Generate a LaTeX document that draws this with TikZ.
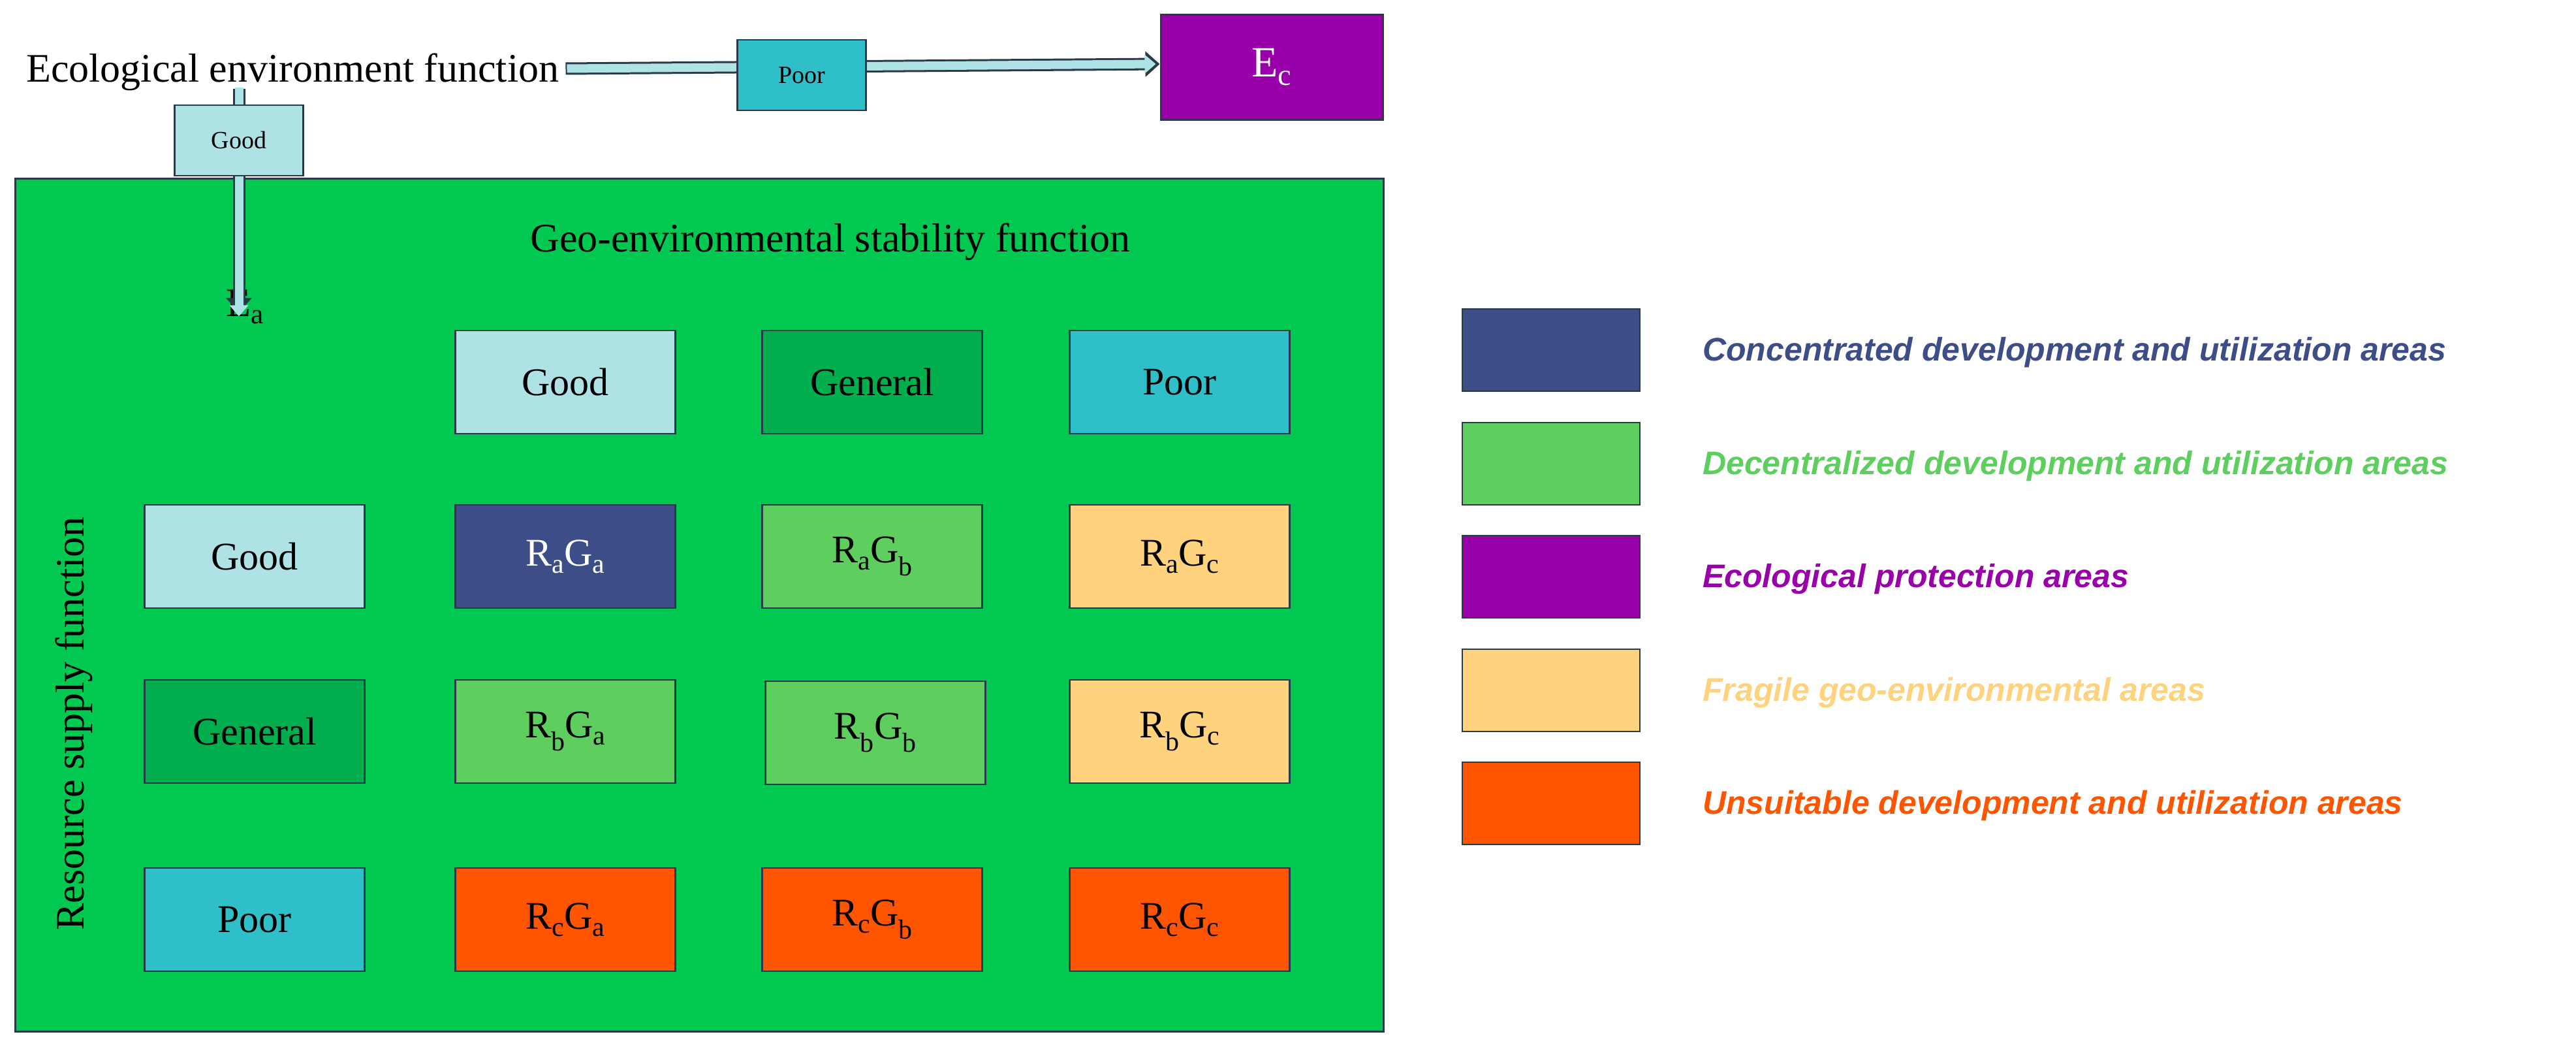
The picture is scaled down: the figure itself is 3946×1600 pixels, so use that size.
\documentclass[tikz,border=0pt]{standalone}
\usepackage{fontspec}
\setmainfont{Liberation Serif}
\newfontfamily\arialf{Liberation Sans}
\usetikzlibrary{arrows.meta}
\definecolor{bggreen}{HTML}{00C850}
\definecolor{lcyan}{HTML}{AEE2E4}
\definecolor{dgreen}{HTML}{00AE4E}
\definecolor{tcyan}{HTML}{2EBFC8}
\definecolor{navy}{HTML}{3C4D88}
\definecolor{lgreen}{HTML}{5ECF5E}
\definecolor{lorange}{HTML}{FFD37E}
\definecolor{orng}{HTML}{FF5500}
\definecolor{purp}{HTML}{9900AA}
\definecolor{edge}{HTML}{2A3A48}
\begin{document}
\begin{tikzpicture}[x=1pt,y=-1pt,
  cell/.style={draw=edge,line width=2.5pt,minimum width=337pt,minimum height=158pt,inner sep=0pt,font=\fontsize{60}{60}\selectfont},
  small/.style={draw=edge,line width=2.5pt,minimum width=197pt,minimum height=108pt,inner sep=0pt,font=\fontsize{38}{38}\selectfont},
  leg/.style={draw=edge,line width=2.5pt,minimum width=272pt,minimum height=126pt,inner sep=0pt},
  legt/.style={anchor=west,inner sep=0pt,font=\arialf\bfseries\itshape\fontsize{50}{50}\selectfont},
  lbl/.style={inner sep=0pt,font=\fontsize{62}{62}\selectfont},
  arrout/.style={draw=edge,line width=19pt},
  arrin/.style={draw=lcyan,line width=13pt}]
\useasboundingbox (0,0) rectangle (3946,1600);
% green frame
\node[draw=edge,line width=3pt,fill=bggreen,minimum width=2096pt,minimum height=1306pt,inner sep=0pt,anchor=north west] (frame) at (22,272) {};
% top text
\node[lbl,anchor=west] (eco) at (40,110) {Ecological environment function};
\node[draw=edge,line width=3pt,fill=purp,minimum width=340pt,minimum height=160pt,inner sep=0pt,text=white,font=\fontsize{66}{66}\selectfont] (ec) at (1948,103) {E\textsubscript{c}};
\coordinate (dtop) at (366,136);
\node[lbl] (ea) at (375,470) {E\textsubscript{a}};
% arrows
\draw[arrout,-{Triangle[length=22pt,width=38pt]}] (eco.east) ++(10pt,5pt) -- ([yshift=5pt]ec.west);
\draw[arrin,-{Triangle[length=17pt,width=28pt]}] (eco.east) ++(12pt,5pt) -- ([xshift=-6pt,yshift=5pt]ec.west);
\draw[arrout,-{Triangle[length=22pt,width=38pt]}] (dtop) -- ([yshift=-35pt]ea.north -| dtop);
\draw[arrin,-{Triangle[length=17pt,width=28pt]}] ([yshift=2pt]dtop) -- ([yshift=-41pt]ea.north -| dtop);
\node[small,fill=tcyan] (ptop) at (1228,115) {Poor};
\node[small,fill=lcyan] (gtop) at (366,215) {Good};
% grid
\node[lbl] (geo) at (1272,370) {Geo-environmental stability function};
\node[lbl,rotate=90] (res) at (113,1108) {Resource supply function};
\node[cell,fill=lcyan] (hg) at (866,585) {Good};
\node[cell,fill=dgreen] (hm) at (1336,585) {General};
\node[cell,fill=tcyan] (hp) at (1807,585) {Poor};
\node[cell,fill=lcyan] (rg) at (390,852) {Good};
\node[cell,fill=dgreen] (rm) at (390,1120) {General};
\node[cell,fill=tcyan] (rp) at (390,1408) {Poor};
\node[cell,fill=navy,text=white] (aa) at (866,852) {R\textsubscript{a}G\textsubscript{a}};
\node[cell,fill=lgreen] (ab) at (1336,852) {R\textsubscript{a}G\textsubscript{b}};
\node[cell,fill=lorange] (ac) at (1807,852) {R\textsubscript{a}G\textsubscript{c}};
\node[cell,fill=lgreen] (ba) at (866,1120) {R\textsubscript{b}G\textsubscript{a}};
\node[cell,fill=lgreen] (bb) at (1341,1122) {R\textsubscript{b}G\textsubscript{b}};
\node[cell,fill=lorange] (bc) at (1807,1120) {R\textsubscript{b}G\textsubscript{c}};
\node[cell,fill=orng] (ca) at (866,1408) {R\textsubscript{c}G\textsubscript{a}};
\node[cell,fill=orng] (cb) at (1336,1408) {R\textsubscript{c}G\textsubscript{b}};
\node[cell,fill=orng] (cc) at (1807,1408) {R\textsubscript{c}G\textsubscript{c}};
% legend
\node[leg,fill=navy] (l1) at (2376,536) {};
\node[leg,fill=lgreen] (l2) at (2376,710) {};
\node[leg,fill=purp] (l3) at (2376,883) {};
\node[leg,fill=lorange] (l4) at (2376,1057) {};
\node[leg,fill=orng] (l5) at (2376,1230) {};
\node[legt,text=navy] (t1) at (2608,540) {Concentrated development and utilization areas};
\node[legt,text=lgreen] (t2) at (2608,714) {Decentralized development and utilization areas};
\node[legt,text=purp] (t3) at (2608,887) {Ecological protection areas};
\node[legt,text=lorange] (t4) at (2608,1061) {Fragile geo-environmental areas};
\node[legt,text=orng] (t5) at (2608,1234) {Unsuitable development and utilization areas};
\end{tikzpicture}
\end{document}
